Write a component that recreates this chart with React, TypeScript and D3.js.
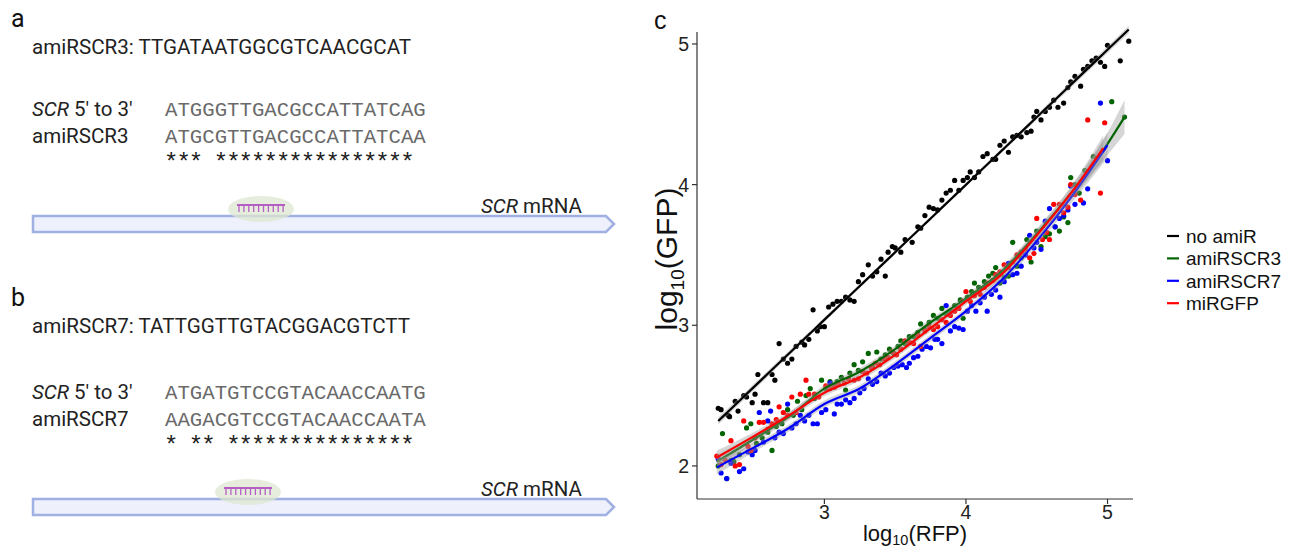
import React from "react";
import * as d3 from "d3";

const W = 1289;
const H = 550;

// scatter values: [log10(RFP), log10(GFP)]
const noAmiR: [number, number][] = [
  [2.25, 2.41], [2.27, 2.4], [2.32, 2.36], [2.33, 2.35], [2.37, 2.46], [2.39, 2.39], [2.43, 2.5],
  [2.45, 2.49], [2.49, 2.45], [2.51, 2.51], [2.53, 2.65], [2.57, 2.45], [2.6, 2.45], [2.63, 2.65],
  [2.65, 2.61], [2.68, 2.87], [2.71, 2.76], [2.74, 2.73], [2.77, 2.76], [2.8, 2.85], [2.84, 2.88],
  [2.86, 2.86], [2.89, 2.9], [2.92, 3.11], [2.95, 2.96], [2.97, 2.99], [3.0, 2.99], [3.03, 3.13],
  [3.06, 3.15], [3.09, 3.17], [3.12, 3.17], [3.15, 3.2], [3.18, 3.18], [3.21, 3.17], [3.24, 3.31],
  [3.27, 3.36], [3.31, 3.43], [3.34, 3.35], [3.37, 3.38], [3.4, 3.47], [3.43, 3.35], [3.45, 3.52],
  [3.48, 3.56], [3.5, 3.55], [3.54, 3.52], [3.57, 3.61], [3.62, 3.59], [3.66, 3.7], [3.68, 3.69],
  [3.71, 3.78], [3.74, 3.84], [3.77, 3.83], [3.8, 3.82], [3.83, 3.89], [3.86, 3.94], [3.89, 3.96],
  [3.92, 4.03], [3.95, 3.96], [3.98, 4.03], [4.01, 4.05], [4.03, 4.09], [4.06, 4.05], [4.09, 4.09],
  [4.12, 4.2], [4.15, 4.22], [4.19, 4.18], [4.21, 4.18], [4.24, 4.28], [4.27, 4.31], [4.3, 4.23],
  [4.33, 4.34], [4.36, 4.35], [4.39, 4.34], [4.43, 4.37], [4.46, 4.38], [4.48, 4.48], [4.5, 4.52],
  [4.53, 4.46], [4.56, 4.52], [4.59, 4.55], [4.62, 4.6], [4.65, 4.55], [4.69, 4.58], [4.72, 4.69],
  [4.74, 4.73], [4.77, 4.77], [4.81, 4.7], [4.83, 4.82], [4.86, 4.84], [4.89, 4.88], [4.92, 4.9],
  [4.95, 4.87], [4.98, 4.84], [5.0, 4.99], [5.09, 4.88], [5.15, 5.02],
];

const amiRSCR3: [number, number][] = [
  [2.25, 2.0], [2.28, 2.23], [2.31, 1.91], [2.34, 2.04], [2.36, 2.03], [2.4, 2.08], [2.45, 2.27],
  [2.48, 2.3], [2.52, 2.16], [2.56, 2.2], [2.6, 2.24], [2.63, 2.11], [2.66, 2.28], [2.7, 2.3],
  [2.74, 2.4], [2.78, 2.36], [2.81, 2.46], [2.84, 2.4], [2.87, 2.5], [2.9, 2.55], [2.93, 2.48],
  [2.98, 2.61], [3.01, 2.55], [3.04, 2.6], [3.07, 2.57], [3.09, 2.6], [3.12, 2.63], [3.15, 2.54],
  [3.18, 2.66], [3.21, 2.72], [3.24, 2.68], [3.27, 2.74], [3.31, 2.8], [3.34, 2.7], [3.37, 2.81],
  [3.4, 2.76], [3.43, 2.79], [3.46, 2.83], [3.49, 2.8], [3.52, 2.85], [3.54, 2.89], [3.57, 2.87],
  [3.6, 2.92], [3.63, 2.92], [3.66, 2.95], [3.68, 3.01], [3.71, 2.97], [3.74, 3.02], [3.77, 3.07],
  [3.8, 3.05], [3.83, 3.12], [3.86, 3.08], [3.89, 3.1], [3.92, 3.14], [3.96, 3.18], [3.98, 3.05],
  [4.01, 3.2], [4.04, 3.24], [4.06, 3.3], [4.09, 3.27], [4.13, 3.31], [4.16, 3.35], [4.19, 3.37],
  [4.21, 3.41], [4.24, 3.3], [4.27, 3.34], [4.3, 3.35], [4.33, 3.59], [4.36, 3.42], [4.39, 3.48],
  [4.43, 3.61], [4.46, 3.45], [4.5, 3.67], [4.53, 3.56], [4.56, 3.63], [4.59, 3.65], [4.63, 3.7],
  [4.66, 3.67], [4.69, 3.77], [4.72, 3.73], [4.74, 4.05], [4.77, 4.0], [4.8, 3.94], [4.84, 4.1],
  [4.9, 4.2], [5.03, 4.59], [5.12, 4.48],
];

const amiRSCR7: [number, number][] = [
  [2.25, 2.05], [2.27, 1.95], [2.31, 1.91], [2.34, 2.02], [2.4, 1.96], [2.43, 1.98], [2.46, 2.1],
  [2.49, 2.08], [2.51, 2.11], [2.54, 2.38], [2.57, 2.17], [2.6, 2.32], [2.62, 2.39], [2.65, 2.2],
  [2.68, 2.24], [2.71, 2.23], [2.74, 2.44], [2.77, 2.27], [2.8, 2.3], [2.83, 2.36], [2.86, 2.32],
  [2.89, 2.36], [2.92, 2.3], [2.95, 2.3], [2.98, 2.38], [3.01, 2.4], [3.04, 2.59], [3.07, 2.37],
  [3.09, 2.44], [3.12, 2.44], [3.15, 2.47], [3.18, 2.45], [3.21, 2.48], [3.25, 2.52], [3.28, 2.55],
  [3.31, 2.62], [3.34, 2.58], [3.37, 2.6], [3.4, 2.66], [3.43, 2.64], [3.46, 2.66], [3.49, 2.7],
  [3.52, 2.71], [3.55, 2.72], [3.58, 2.7], [3.6, 2.73], [3.63, 2.77], [3.66, 2.78], [3.69, 2.83],
  [3.72, 2.85], [3.75, 2.84], [3.78, 2.9], [3.8, 2.9], [3.83, 2.87], [3.86, 3.14], [3.89, 2.96],
  [3.92, 2.99], [3.95, 2.98], [3.98, 2.97], [4.01, 3.1], [4.04, 3.14], [4.07, 3.1], [4.1, 3.16],
  [4.13, 3.2], [4.15, 3.1], [4.18, 3.22], [4.21, 3.25], [4.24, 3.2], [4.27, 3.31], [4.3, 3.44],
  [4.33, 3.36], [4.36, 3.37], [4.39, 3.42], [4.42, 3.5], [4.45, 3.64], [4.48, 3.55], [4.5, 3.59],
  [4.53, 3.54], [4.56, 3.74], [4.59, 3.83], [4.63, 3.7], [4.66, 3.76], [4.69, 3.78], [4.72, 3.82],
  [4.74, 3.99], [4.77, 3.86], [4.83, 3.87], [4.86, 3.97], [4.95, 4.58], [5.0, 4.17],
];

const miRGFP: [number, number][] = [
  [2.24, 2.07], [2.27, 2.01], [2.3, 2.04], [2.34, 2.18], [2.37, 2.0], [2.4, 2.01], [2.43, 2.32],
  [2.46, 2.14], [2.48, 2.11], [2.51, 2.2], [2.54, 2.31], [2.57, 2.31], [2.6, 2.26], [2.63, 2.3],
  [2.66, 2.33], [2.68, 2.42], [2.71, 2.38], [2.74, 2.36], [2.77, 2.49], [2.8, 2.38], [2.83, 2.51],
  [2.87, 2.61], [2.89, 2.51], [2.93, 2.51], [2.96, 2.49], [3.01, 2.57], [3.04, 2.55], [3.07, 2.56],
  [3.1, 2.58], [3.14, 2.59], [3.17, 2.62], [3.21, 2.61], [3.24, 2.62], [3.27, 2.67], [3.3, 2.66],
  [3.33, 2.7], [3.36, 2.73], [3.39, 2.72], [3.42, 2.76], [3.45, 2.77], [3.48, 2.81], [3.51, 2.79],
  [3.54, 2.83], [3.57, 2.89], [3.6, 2.88], [3.63, 2.87], [3.66, 2.93], [3.68, 2.85], [3.71, 2.96],
  [3.74, 2.99], [3.77, 2.97], [3.8, 2.99], [3.83, 3.04], [3.86, 3.02], [3.89, 3.07], [3.92, 3.1],
  [3.95, 3.12], [3.98, 3.17], [4.0, 3.24], [4.03, 3.17], [4.06, 3.21], [4.1, 3.22], [4.13, 3.27],
  [4.16, 3.3], [4.19, 3.32], [4.21, 3.36], [4.24, 3.38], [4.27, 3.43], [4.3, 3.41], [4.33, 3.45],
  [4.36, 3.5], [4.39, 3.52], [4.42, 3.54], [4.45, 3.48], [4.48, 3.51], [4.5, 3.76], [4.54, 3.61],
  [4.57, 3.66], [4.59, 3.61], [4.62, 3.86], [4.66, 3.86], [4.69, 3.8], [4.72, 3.84], [4.74, 4.0],
  [4.77, 3.93], [4.81, 3.89], [4.86, 4.46], [4.95, 3.94], [4.98, 4.44],
];

// loess curves: [x, fitted y, half width of grey band]
const fitSCR3: [number, number, number][] = [
  [2.24, 2.03, 0.05], [2.5, 2.19, 0.03], [2.75, 2.35, 0.025], [3.0, 2.55, 0.025], [3.25, 2.67, 0.025],
  [3.5, 2.83, 0.025], [3.75, 3.02, 0.025], [4.0, 3.19, 0.025], [4.25, 3.38, 0.03], [4.5, 3.65, 0.035],
  [4.75, 3.95, 0.045], [5.0, 4.29, 0.08], [5.12, 4.48, 0.12],
];
const fitSCR7: [number, number, number][] = [
  [2.24, 1.99, 0.05], [2.5, 2.13, 0.03], [2.75, 2.27, 0.025], [3.0, 2.44, 0.025], [3.25, 2.55, 0.025],
  [3.5, 2.72, 0.025], [3.75, 2.91, 0.025], [4.0, 3.1, 0.025], [4.25, 3.32, 0.03], [4.5, 3.6, 0.035],
  [4.75, 3.92, 0.045], [5.0, 4.28, 0.09],
];
const fitMiRGFP: [number, number, number][] = [
  [2.24, 2.06, 0.05], [2.5, 2.21, 0.03], [2.75, 2.36, 0.025], [3.0, 2.52, 0.025], [3.25, 2.63, 0.025],
  [3.5, 2.79, 0.025], [3.75, 2.98, 0.025], [4.0, 3.17, 0.025], [4.25, 3.36, 0.03], [4.5, 3.64, 0.035],
  [4.75, 3.95, 0.045], [4.97, 4.26, 0.09],
];

const seriesNames = ["no amiR", "amiRSCR3", "amiRSCR7", "miRGFP"];
const seriesColors = ["#000000", "#006400", "#0000ff", "#ff0000"];
const xTicks = [3, 4, 5];
const yTicks = [2, 3, 4, 5];

const panelA = {
  letter: "a",
  name: "amiRSCR3",
  guide: "TTGATAATGGCGTCAACGCAT",
  target: "ATGGGTTGACGCCATTATCAG",
  ami: "ATGCGTTGACGCCATTATCAA",
};
const panelB = {
  letter: "b",
  name: "amiRSCR7",
  guide: "TATTGGTTGTACGGACGTCTT",
  target: "ATGATGTCCGTACAACCAATG",
  ami: "AAGACGTCCGTACAACCAATA",
};

const sans = "Roboto, 'Noto Sans', Arial, sans-serif";
const mono = "'Liberation Mono', 'Courier New', monospace";
const arial = "'Liberation Sans', Arial, sans-serif";

function linearFit(pts: [number, number][]) {
  const n = pts.length;
  const mx = d3.mean(pts, (d) => d[0])!;
  const my = d3.mean(pts, (d) => d[1])!;
  const sxx = d3.sum(pts, (d) => (d[0] - mx) ** 2);
  const sxy = d3.sum(pts, (d) => (d[0] - mx) * (d[1] - my));
  const b = sxy / sxx;
  const a = my - b * mx;
  const s2 = d3.sum(pts, (d) => (d[1] - a - b * d[0]) ** 2) / (n - 2);
  const [x0, x1] = d3.extent(pts, (d) => d[0]) as [number, number];
  return d3.range(0, 41).map((i) => {
    const x = x0 + ((x1 - x0) * i) / 40;
    const se = Math.sqrt(s2 * (1 / n + (x - mx) ** 2 / sxx));
    return [x, a + b * x, 1.98 * se] as [number, number, number];
  });
}

const SeqPanel = ({ p, dy, dyHead, ex }: { p: typeof panelA; dy: number; dyHead: number; ex: number }) => {
  const cw = 12.43;
  const sx = 165;
  const stars = p.target.split("").map((c, i) => (c === p.ami[i] ? "*" : " "));
  const teeth = d3.range(10);
  return (
    <g>
      <text x={11} y={27 + dyHead} fontFamily={sans} fontSize={25} fill="#111">{p.letter}</text>
      <text x={32} y={54 + dyHead} fontFamily={sans} fontSize={20.6} fill="#222">{`${p.name}: ${p.guide}`}</text>
      <text x={32} y={116 + dy} fontFamily={sans} fontSize={20.5} fill="#222">
        <tspan fontStyle="italic">SCR</tspan> 5' to 3'
      </text>
      <text x={32} y={143 + dy} fontFamily={sans} fontSize={20.5} fill="#222">{p.name}</text>
      <text x={sx} y={116 + dy} fontFamily={mono} fontSize={20.7} fill="#6a6a6a">{p.target}</text>
      <text x={sx} y={143 + dy} fontFamily={mono} fontSize={20.7} fill="#6a6a6a">{p.ami}</text>
      {stars.map((s, i) =>
        s === "*" ? (
          <text key={i} x={sx + i * cw + cw / 2} y={170 + dy} textAnchor="middle" fontFamily={mono} fontSize={24} fill="#222">*</text>
        ) : null
      )}
      <path d={`M33,${216 + dy}H606L614,${224 + dy}L606,${232 + dy}H33Z`} fill="#eef1fb" stroke="#a0b0e2" strokeWidth={2.5} />
      <ellipse cx={ex} cy={209 + dy} rx={33} ry={13} fill="#dde7d0" opacity={0.75} />
      <line x1={ex - 24} x2={ex + 24} y1={205 + dy} y2={205 + dy} stroke="#b55fc4" strokeWidth={2} />
      {teeth.map((i) => (
        <line key={i} x1={ex - 22 + i * 4.9} x2={ex - 22 + i * 4.9} y1={205 + dy} y2={212 + dy} stroke="#b55fc4" strokeWidth={1.3} />
      ))}
      <text x={481} y={213 + dy} fontFamily={sans} fontSize={20.5} fill="#222">
        <tspan fontStyle="italic">SCR</tspan> mRNA
      </text>
    </g>
  );
};

const App = () => {
  const x = d3.scaleLinear().domain([2.1, 5.18]).range([697, 1133]);
  const y = d3.scaleLinear().domain([1.765, 5.085]).range([499, 32]);

  const points = [noAmiR, amiRSCR3, amiRSCR7, miRGFP];
  const fits = [linearFit(noAmiR), fitSCR3, fitSCR7, fitMiRGFP];
  const curve = d3.curveMonotoneX;
  const line = d3.line<[number, number, number]>().x((d) => x(d[0])).y((d) => y(d[1])).curve(curve);
  const band = d3
    .area<[number, number, number]>()
    .x((d) => x(d[0]))
    .y0((d) => y(d[1] - d[2]))
    .y1((d) => y(d[1] + d[2]))
    .curve(curve);

  return (
    <svg width={W} height={H} style={{ position: "absolute", left: 0, top: 0, background: "#fff" }}>
      <SeqPanel p={panelA} dy={0} dyHead={0} ex={261} />
      <SeqPanel p={panelB} dy={283} dyHead={279} ex={248} />

      <text x={654} y={29} fontFamily={arial} fontSize={25} fill="#111">c</text>

      {points.map((pts, s) => (
        <g key={s} fill={seriesColors[s]}>
          {pts.map((d, i) => (
            <circle key={i} cx={x(d[0])} cy={y(d[1])} r={2.6} />
          ))}
        </g>
      ))}
      {fits.map((f, s) => (
        <g key={s}>
          <path d={band(f) || ""} fill="#999999" opacity={0.4} />
          <path d={line(f) || ""} fill="none" stroke={seriesColors[s]} strokeWidth={2.2} />
        </g>
      ))}

      <line x1={697} x2={697} y1={32} y2={499} stroke="#333" strokeWidth={1.2} />
      <line x1={697} x2={1133} y1={499} y2={499} stroke="#333" strokeWidth={1.2} />
      {yTicks.map((t) => (
        <g key={t}>
          <line x1={692} x2={697} y1={y(t)} y2={y(t)} stroke="#333" strokeWidth={1.2} />
          <text x={689} y={y(t) + 7} textAnchor="end" fontFamily={arial} fontSize={19.5} fill="#222">{t}</text>
        </g>
      ))}
      {xTicks.map((t) => (
        <g key={t}>
          <line x1={x(t)} x2={x(t)} y1={499} y2={504} stroke="#333" strokeWidth={1.2} />
          <text x={x(t)} y={519} textAnchor="middle" fontFamily={arial} fontSize={19.5} fill="#222">{t}</text>
        </g>
      ))}

      <text x={915} y={541} textAnchor="middle" fontFamily={arial} fontSize={22} fill="#111">
        log<tspan fontSize={14.5} dy={4}>10</tspan><tspan dy={-4}>(RFP)</tspan>
      </text>
      <text transform="translate(677,259) rotate(-90)" textAnchor="middle" fontFamily={arial} fontSize={30} fill="#111">
        log<tspan fontSize={19} dy={7}>10</tspan><tspan dy={-7}>(GFP)</tspan>
      </text>

      {seriesNames.map((n, i) => (
        <g key={n} transform={`translate(1167,${236 + i * 22.4})`}>
          <line x1={0} x2={12} y1={0} y2={0} stroke={seriesColors[i]} strokeWidth={2.2} />
          <text x={19} y={7} fontFamily={arial} fontSize={19} fill="#111">{n}</text>
        </g>
      ))}
    </svg>
  );
};

export default App;
